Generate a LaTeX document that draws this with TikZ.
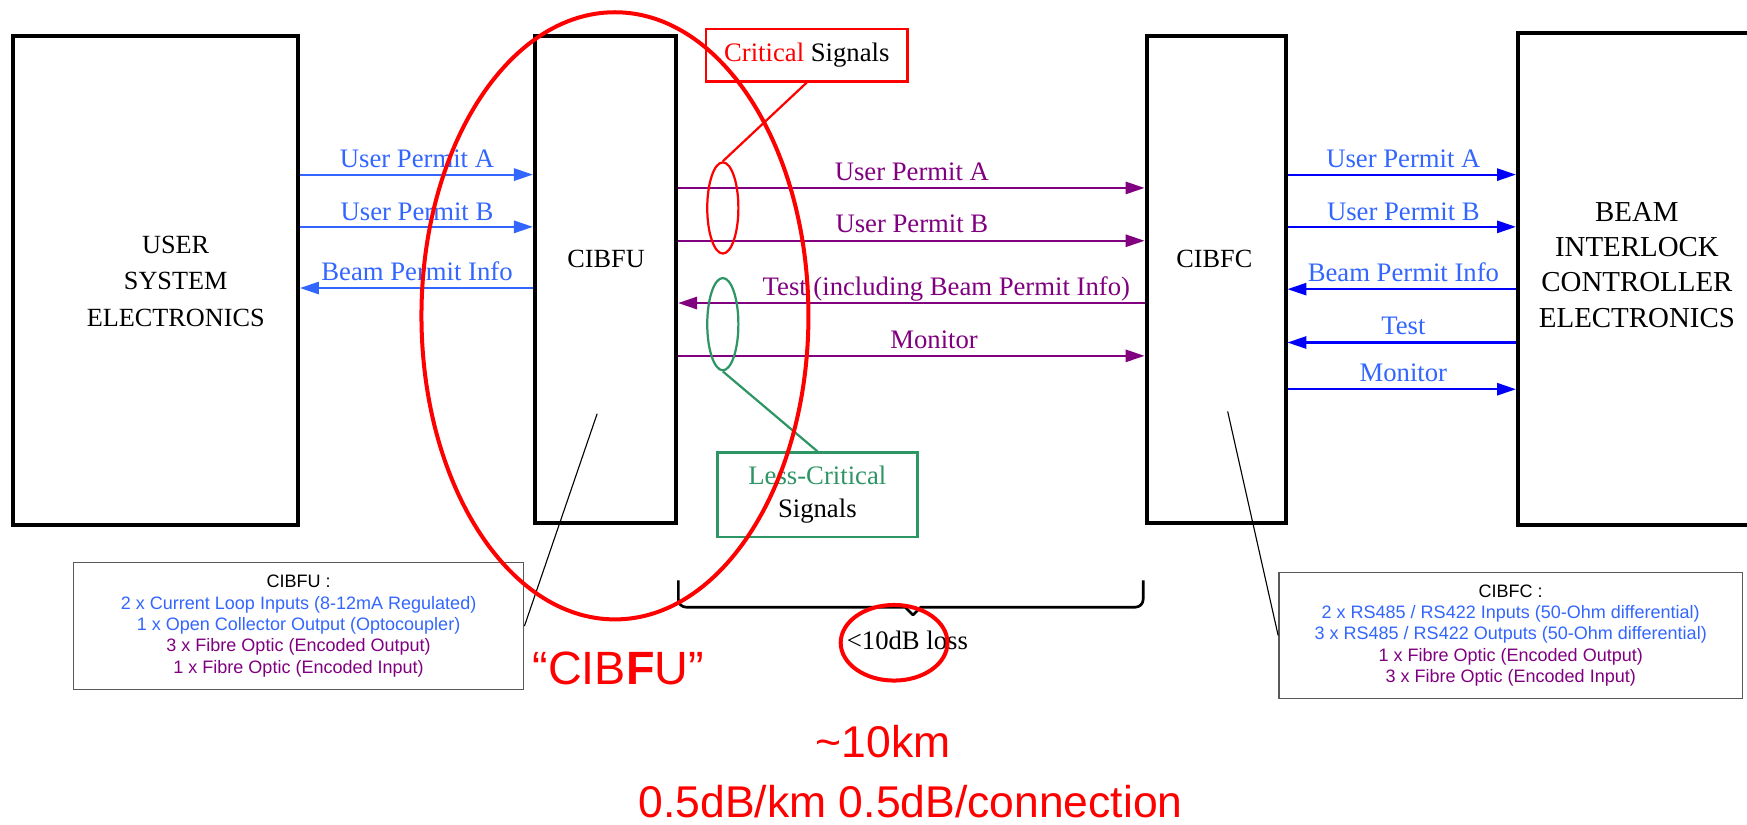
\documentclass[tikz,border=0pt]{standalone}
\usepackage{fontspec}
\setmainfont{Liberation Serif}
\newfontfamily\arialf{Liberation Sans}
\usetikzlibrary{arrows.meta,shapes.geometric}
\definecolor{lblue}{RGB}{51,102,255}
\definecolor{dblue}{RGB}{0,0,250}
\definecolor{purp}{RGB}{128,0,128}
\definecolor{sgreen}{RGB}{46,150,100}
\definecolor{bred}{RGB}{255,0,0}
\begin{document}
\begin{tikzpicture}[x=0.5pt,y=-0.5pt,
 blk/.style={draw, line width=1.8pt, rectangle, inner sep=0pt},
 btxt/.style={font=\fontsize{11.8}{16.3}\selectfont, align=center, inner sep=0pt},
 lab/.style={font=\fontsize{12}{14}\selectfont, anchor=base, inner sep=0pt},
 sig/.style={line width=0.95pt, -{Triangle[length=8.5pt,width=5.5pt]}},
 info/.style={draw=black!65, line width=0.6pt, align=center, font=\arialf\fontsize{8.1}{9.65}\selectfont, inner sep=0pt},
 callout/.style={line width=1.2pt, inner sep=0pt, font=\fontsize{12}{15}\selectfont, align=center},
 big/.style={text=bred, font=\arialf\fontsize{20}{24}\selectfont, inner sep=0pt}
 ]
\path[use as bounding box, clip] (0,0) rectangle (1571,741);
\fill[white] (0,0) rectangle (1571,741);

% main blocks
\node[blk, minimum width=128pt, minimum height=220pt] (use) at (140,252) {};
\node[blk, minimum width=63.5pt, minimum height=219pt] (cibfu) at (544.5,251) {};
\node[blk, minimum width=62.5pt, minimum height=219pt] (cibfc) at (1093.5,251) {};
\node[blk, minimum width=112.5pt, minimum height=221pt] (beam) at (1477.5,251) {};

\node[btxt] (tuse) at (158,253) {USER\\SYSTEM\\ELECTRONICS};
\node[btxt] (tcibfu) at (545,233) {CIBFU};
\node[btxt] (tcibfc) at (1092,233) {CIBFC};
\node[btxt, font=\fontsize{13}{15.9}\selectfont] (tbeam) at (1472,238) {BEAM\\INTERLOCK\\CONTROLLER\\ELECTRONICS};

% row levels
\coordinate (yLA) at (0,157);
\coordinate (yLB) at (0,204);
\coordinate (yLC) at (0,259);
\coordinate (yMA) at (0,169);
\coordinate (yMB) at (0,216.5);
\coordinate (yMC) at (0,272.5);
\coordinate (yMD) at (0,320);
\coordinate (yRA) at (0,157);
\coordinate (yRB) at (0,204);
\coordinate (yRC) at (0,260);
\coordinate (yRD) at (0,308);
\coordinate (yRE) at (0,350);

% left signals
\draw[sig, lblue] (use.east |- yLA) -- (cibfu.west |- yLA);
\draw[sig, lblue] (use.east |- yLB) -- (cibfu.west |- yLB);
\draw[sig, lblue] (cibfu.west |- yLC) -- (use.east |- yLC);
\node[lab, lblue] (lLA) at (375,151) {User Permit A};
\node[lab, lblue] (lLB) at (375,198) {User Permit B};
\node[lab, lblue] (lLC) at (375,252) {Beam Permit Info};

% middle signals
\draw[sig, purp] (cibfu.east |- yMA) -- (cibfc.west |- yMA);
\draw[sig, purp] (cibfu.east |- yMB) -- (cibfc.west |- yMB);
\draw[sig, purp] (cibfc.west |- yMC) -- (cibfu.east |- yMC);
\draw[sig, purp] (cibfu.east |- yMD) -- (cibfc.west |- yMD);
\node[lab, purp] (lMA) at (820,162) {User Permit A};
\node[lab, purp] (lMB) at (820,209.5) {User Permit B};
\node[lab, purp] (lMC) at (851,265.5) {Test (including Beam Permit Info)};
\node[lab, purp] (lMD) at (840,313) {Monitor};

% right signals
\draw[sig, dblue] (cibfc.east |- yRA) -- (beam.west |- yRA);
\draw[sig, dblue] (cibfc.east |- yRB) -- (beam.west |- yRB);
\draw[sig, dblue] (beam.west |- yRC) -- (cibfc.east |- yRC);
\draw[sig, dblue] (beam.west |- yRD) -- (cibfc.east |- yRD);
\draw[sig, dblue] (cibfc.east |- yRE) -- (beam.west |- yRE);
\node[lab, lblue] (lRA) at (1262,151) {User Permit A};
\node[lab, lblue] (lRB) at (1262,198) {User Permit B};
\node[lab, lblue] (lRC) at (1262,253) {Beam Permit Info};
\node[lab, lblue] (lRD) at (1262,301) {Test};
\node[lab, lblue] (lRE) at (1262,343) {Monitor};

% callouts
\node[callout, draw=bred, minimum width=90.5pt, minimum height=23.5pt, fill=white] (crit) at (725.5,49.5) {\textcolor{bred}{Critical} Signals};
\node[draw=bred, ellipse, line width=1pt, minimum width=14pt, minimum height=41pt, inner sep=0pt] (crel) at (650,187) {};
\draw[bred, line width=1pt] (crit.south) -- (crel.north);

\node[callout, draw=sgreen, minimum width=90pt, minimum height=38pt, fill=white] (less) at (735,445) {\textcolor{sgreen}{Less-Critical}\\Signals};
\node[draw=sgreen, ellipse, line width=1pt, minimum width=14pt, minimum height=41.5pt, inner sep=0pt] (grel) at (650,291.5) {};
\draw[sgreen, line width=1pt] (grel.south) -- (less.north);

% info boxes
\node[info, minimum width=202.5pt, minimum height=57pt] (infoL) at (268.5,563) {CIBFU :\\
\textcolor{lblue}{2 x Current Loop Inputs (8-12mA Regulated)}\\
\textcolor{lblue}{1 x Open Collector Output (Optocoupler)}\\
\textcolor{purp}{3 x Fibre Optic (Encoded Output)}\\
\textcolor{purp}{1 x Fibre Optic (Encoded Input)}};
\node[info, minimum width=208.5pt, minimum height=56.5pt] (infoR) at (1358.5,571.5) {CIBFC :\\
\textcolor{lblue}{2 x RS485 / RS422 Inputs (50-Ohm differential)}\\
\textcolor{lblue}{3 x RS485 / RS422 Outputs (50-Ohm differential)}\\
\textcolor{purp}{1 x Fibre Optic (Encoded Output)}\\
\textcolor{purp}{3 x Fibre Optic (Encoded Input)}};
\coordinate (pL) at (537,372);
\coordinate (pR) at (1104,370);
\draw[line width=0.5pt] (infoL.east) -- (pL);
\draw[line width=0.5pt] (infoR.west) -- (pR);

% brace
\draw[line width=1.2pt, line join=round] (610,522) -- (610,539) arc[start angle=180, end angle=270, radius=3.5pt] -- (814,546) -- (821,553) -- (828,546) -- (1021,546) arc[start angle=270, end angle=360, radius=3.5pt] -- (1028,522);
\node[font=\fontsize{12}{14}\selectfont, inner sep=0pt] (loss) at (816,576) {<10dB loss};

% red annotations
\draw[bred, line width=1.8pt] (553,284) ellipse [x radius=87pt, y radius=136.5pt];
\draw[bred, line width=1.8pt] (804,578) ellipse [x radius=24pt, y radius=17pt];
\node[big, font=\arialf\fontsize{21}{24}\selectfont] (qcibfu) at (556,601) {“CIB\textbf{F}U”};
\node[big] (km) at (794,667) {\textasciitilde10km};
\node[big] (db) at (819,721) {0.5dB/km 0.5dB/connection};
\end{tikzpicture}
\end{document}
